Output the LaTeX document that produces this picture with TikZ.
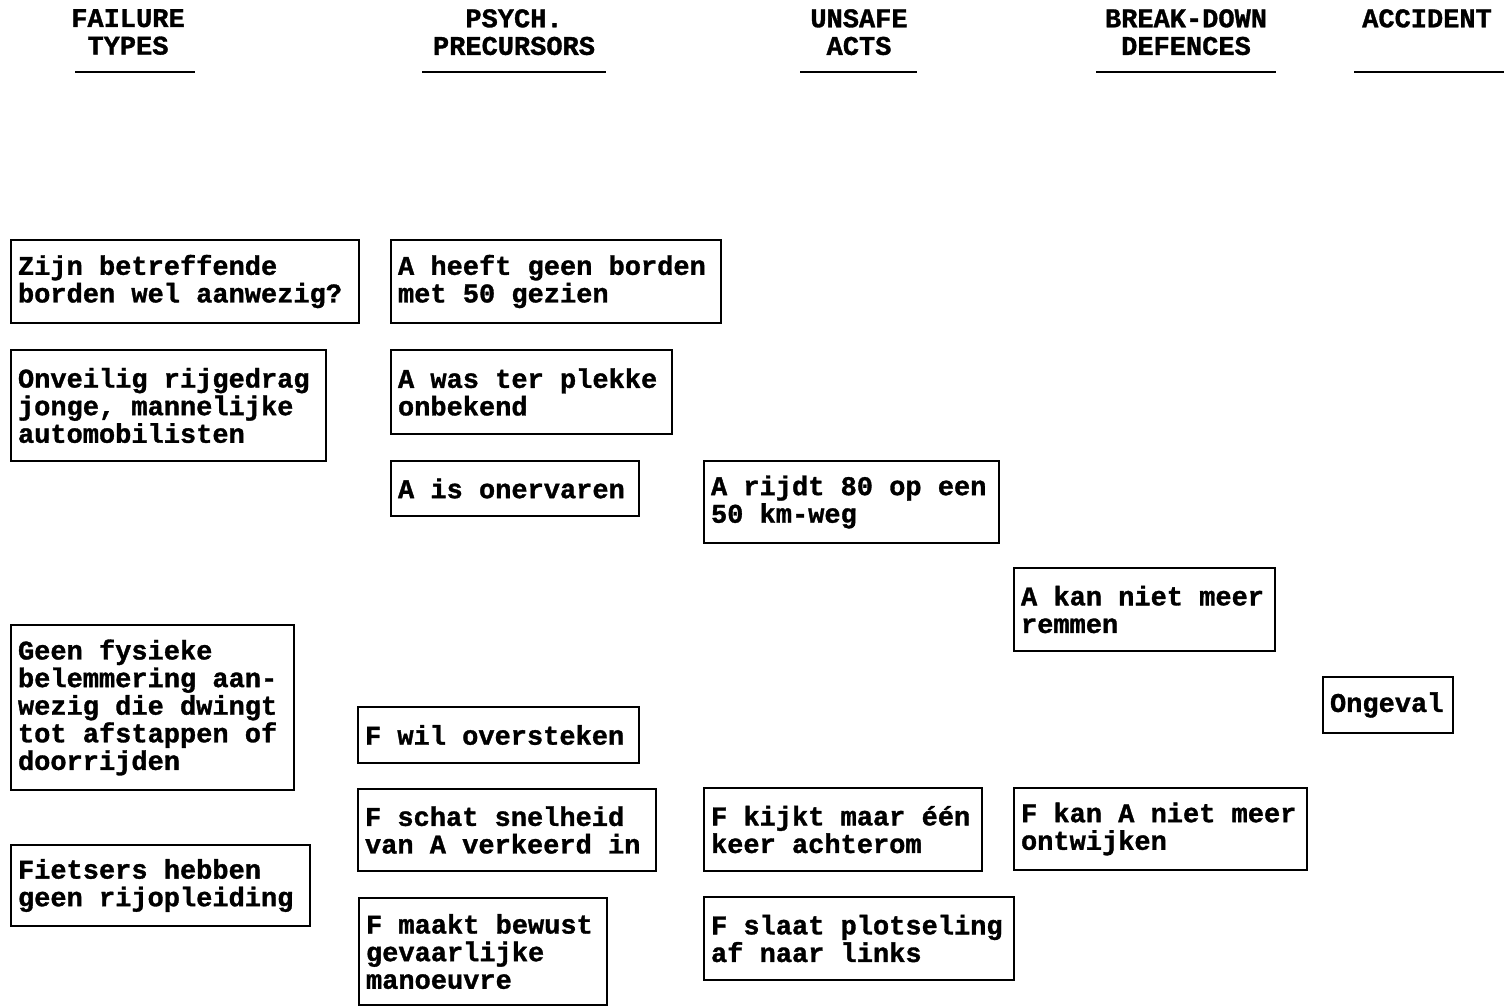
\documentclass[tikz,border=0pt]{standalone}
\usepackage{fontspec}
\newfontfamily\monofam{Liberation Mono}[BoldFeatures={FakeBold=1.2}]
\newcommand\cellfont{\monofam\bfseries\fontsize{27}{27.6}\selectfont\hyphenpenalty=10000\exhyphenpenalty=10000}
\tikzset{
  cell/.style={draw, line width=1.6pt, anchor=north west, align=left,
    inner xsep=7pt, inner ysep=0pt, outer sep=0pt, font=\cellfont,
    execute at begin node={\spaceskip=0pt\xspaceskip=0pt}},
  head/.style={anchor=north, align=center, inner sep=0pt, font=\cellfont},
  rule/.style={line width=1.8pt}
}
\begin{document}
\begin{tikzpicture}[x=1pt,y=-1pt]
\useasboundingbox (0,0) rectangle (1511,1007);

% column headings
\node[head] (h1) at (128,9)  {FAILURE\\TYPES};
\node[head] (h2) at (514,9)  {PSYCH.\\PRECURSORS};
\node[head] (h3) at (859,9)  {UNSAFE\\ACTS};
\node[head] (h4) at (1186,9) {BREAK-DOWN\\DEFENCES};
\node[head] (h5) at (1427,9) {ACCIDENT};
\draw[rule] (75,72)   -- (195,72);
\draw[rule] (422,72)  -- (606,72);
\draw[rule] (800,72)  -- (917,72);
\draw[rule] (1096,72) -- (1276,72);
\draw[rule] (1354,72) -- (1504,72);

% failure types
\node[cell, text width=334pt, minimum height=83pt] (f1) at (11,240)
  {Zijn betreffende\\borden wel aanwezig?};
\node[cell, text width=301pt, minimum height=111pt] (f2) at (11,350)
  {Onveilig rijgedrag\\jonge, mannelijke\\automobilisten};
\node[cell, text width=269pt, minimum height=165pt] (f3) at (11,625)
  {Geen fysieke\\belemmering aan-\\wezig die dwingt\\tot afstappen of\\doorrijden};
\node[cell, text width=285pt, minimum height=81pt] (f4) at (11,845)
  {Fietsers hebben\\geen rijopleiding};

% psychological precursors
\node[cell, text width=316pt, minimum height=83pt] (p1) at (391,240)
  {A heeft geen borden\\met 50 gezien};
\node[cell, text width=267pt, minimum height=84pt] (p2) at (391,350)
  {A was ter plekke\\onbekend};
\node[cell, text width=234pt, minimum height=55pt] (p3) at (391,461)
  {A is onervaren};
\node[cell, text width=267pt, minimum height=56pt] (p4) at (358,707)
  {F wil oversteken};
\node[cell, text width=284pt, minimum height=82pt] (p5) at (358,789)
  {F schat snelheid\\van A verkeerd in};
\node[cell, text width=234pt, minimum height=107pt] (p6) at (359,898)
  {F maakt bewust\\gevaarlijke\\manoeuvre};

% unsafe acts
\node[cell, text width=281pt, minimum height=82pt] (u1) at (704,461)
  {A rijdt 80 op een\\50 km-weg};
\node[cell, text width=264pt, minimum height=83pt] (u2) at (704,788)
  {F kijkt maar één\\keer achterom};
\node[cell, text width=296pt, minimum height=83pt] (u3) at (704,897)
  {F slaat plotseling\\af naar links};

% break-down of defences
\node[cell, text width=247pt, minimum height=83pt] (d1) at (1014,568)
  {A kan niet meer\\remmen};
\node[cell, text width=279pt, minimum height=82pt] (d2) at (1014,788)
  {F kan A niet meer\\ontwijken};

% accident
\node[cell, text width=116pt, minimum height=56pt] (a1) at (1323,677)
  {Ongeval};
\end{tikzpicture}
\end{document}
